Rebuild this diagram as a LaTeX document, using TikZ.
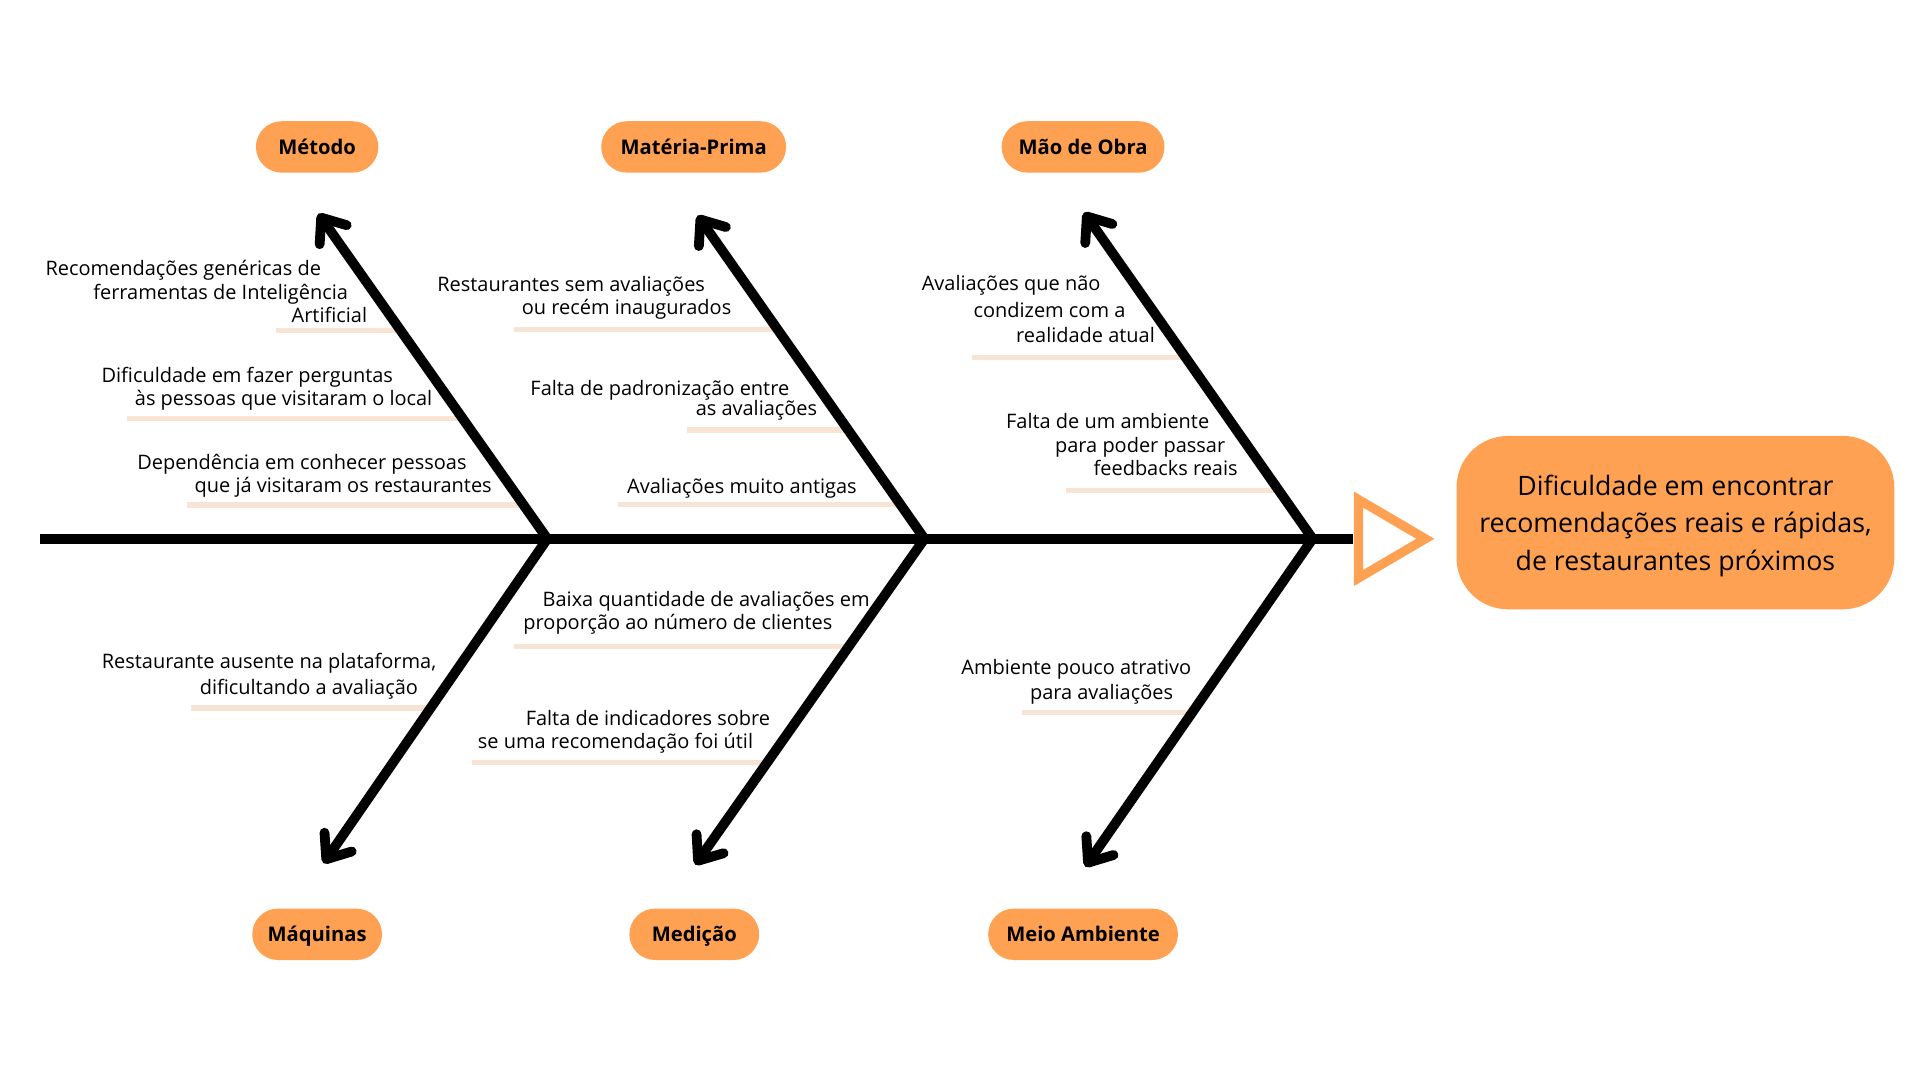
\documentclass[tikz,border=0pt]{standalone}
\usepackage{fontspec}
\setmainfont{Open Sans}
\usetikzlibrary{arrows.meta}
\definecolor{orng}{HTML}{FFA152}
\definecolor{peach}{HTML}{F8E4D4}
\newcommand\lbl[4]{\node[txt] (#1) at (#2,#3) {#4};}
\newcommand\uln[3]{\draw[uline] (#1,#3) -- (#2,#3);}
\begin{document}
\begin{tikzpicture}[x=1pt,y=-1pt,
  txt/.style={anchor=base west, inner sep=0pt, font=\fontsize{16.3}{20}\selectfont},
  pill/.style={fill=orng, rounded corners=21pt, minimum height=42pt, inner sep=0pt,
    text height=14pt, text depth=2pt, font=\fontsize{16.5}{20}\selectfont\bfseries},
  uline/.style={draw=peach, line width=4.5pt},
  bone/.style={line width=8pt, line join=miter},
  tipb/.tip={Straight Barb[length=17pt, width=27pt, round]}
]
\useasboundingbox (0,0) rectangle (1568,882);

% category labels
\node[pill, minimum width=100pt] (metodo) at (259,120) {Método};
\node[pill, minimum width=151pt] (materia) at (566.5,120) {Matéria-Prima};
\node[pill, minimum width=133pt] (maodeobra) at (884.5,120) {Mão de Obra};
\node[pill, minimum width=106pt] (maquinas) at (259,763) {Máquinas};
\node[pill, minimum width=106pt] (medicao) at (567,763) {Medição};
\node[pill, minimum width=155pt] (meioamb) at (884.5,763) {Meio Ambiente};

% underlines
\uln{225}{327.5}{270}
\uln{104}{377.8}{341.6}
\uln{153}{427.6}{412.4}
\uln{420}{635}{269}
\uln{561}{692.5}{351}
\uln{505}{735.3}{412}
\uln{793.5}{968}{291.8}
\uln{870.6}{1044.4}{400.7}
\uln{156}{351.6}{578}
\uln{420}{693}{528}
\uln{385.5}{626.3}{622.8}
\uln{835}{973.4}{582}

% spine
\coordinate (s0) at (33,440);
\coordinate (s1) at (1105,440);
\draw[line width=8.5pt] (s0) -- (s1);

% junctions and tips
\coordinate (j1) at (447,440);
\coordinate (j2) at (755,440);
\coordinate (j3) at (1072,440);
\coordinate (t1) at (260,174.5);
\coordinate (t2) at (569.7,176);
\coordinate (t3) at (885.3,173.5);
\coordinate (b1) at (264.2,705);
\coordinate (b2) at (567.8,706.2);
\coordinate (b3) at (886.3,707.8);

\draw[bone, tipb-tipb] (t1) -- (j1) -- (b1);
\draw[bone, tipb-tipb] (t2) -- (j2) -- (b2);
\draw[bone, tipb-tipb] (t3) -- (j3) -- (b3);

% head triangle
\draw[orng, line width=7.5pt, fill=white, line join=miter] (1109.5,408) -- (1109.5,472) -- (1164,440) -- cycle;

% problem box
\node[fill=orng, rounded corners=42pt, minimum width=357.5pt, minimum height=141.6pt,
  align=center, inner sep=0pt, text depth=0pt, font=\fontsize{21.8}{30.5}\selectfont] (problem) at (1368.25,426.8)
  {Dificuldade em encontrar\\recomendações reais e rápidas,\\de restaurantes próximos};

% Método
\lbl{m1a}{37}{224.6}{Recomendações genéricas de}
\lbl{m1b}{76}{244.2}{ferramentas de Inteligência}
\lbl{m1c}{238}{263.5}{Artificial}
\lbl{m2a}{82.8}{312.5}{Dificuldade em fazer perguntas}
\lbl{m2b}{110}{331.5}{às pessoas que visitaram o local}
\lbl{m3a}{111.9}{383.3}{Dependência em conhecer pessoas}
\lbl{m3b}{158.8}{402.3}{que já visitaram os restaurantes}
% Matéria-Prima
\lbl{p1a}{357}{238}{Restaurantes sem avaliações}
\lbl{p1b}{426}{257}{ou recém inaugurados}
\lbl{p2a}{433}{323}{Falta de padronização entre}
\lbl{p2b}{568}{339}{as avaliações}
\lbl{p3a}{512}{403}{Avaliações muito antigas}
% Mão de Obra
\lbl{o1a}{752.6}{237.6}{Avaliações que não}
\lbl{o1b}{794.9}{259.2}{condizem com a}
\lbl{o1c}{829.7}{279.8}{realidade atual}
\lbl{o2a}{821.5}{349.8}{Falta de um ambiente}
\lbl{o2b}{861.5}{369.4}{para poder passar}
\lbl{o2c}{892.9}{388.7}{feedbacks reais}
% Máquinas
\lbl{q1a}{83}{546}{Restaurante ausente na plataforma,}
\lbl{q1b}{163}{567}{dificultando a avaliação}
% Medição
\lbl{d1a}{443}{494.9}{Baixa quantidade de avaliações em}
\lbl{d1b}{427.3}{513.9}{proporção ao número de clientes}
\lbl{d2a}{429.2}{592.3}{Falta de indicadores sobre}
\lbl{d2b}{390.1}{611.1}{se uma recomendação foi útil}
% Meio Ambiente
\lbl{a1a}{785}{551}{Ambiente pouco atrativo}
\lbl{a1b}{841}{571}{para avaliações}
\end{tikzpicture}
\end{document}
